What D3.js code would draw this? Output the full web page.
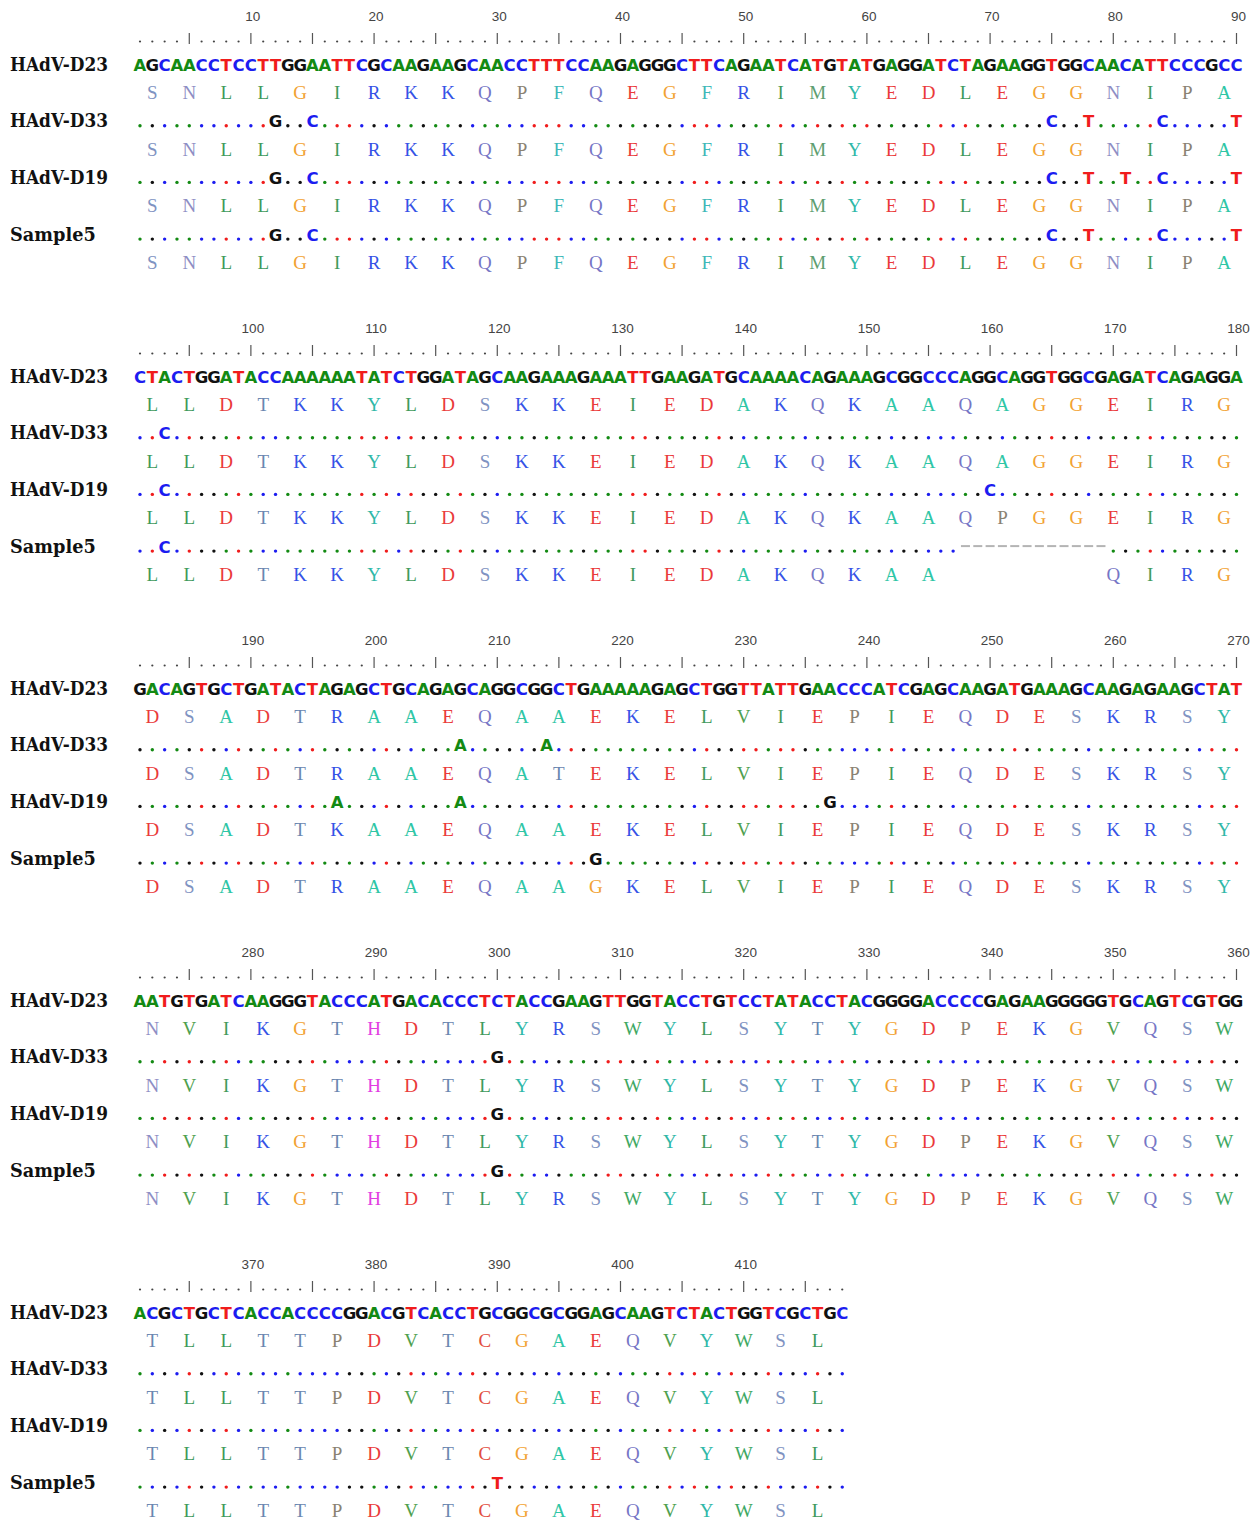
<!DOCTYPE html>
<html>
<head>
<meta charset="utf-8">
<script src="https://cdn.jsdelivr.net/npm/d3@7"></script>
<style>
  body { margin: 0; background: #fff; }
</style>
</head>
<body>
<div id="chart"></div>
<script>
const LINE_LEN = 90 // nucleotides per line
const BLOCK_H = 312 // vertical distance between blocks
const ROW_STEP = 56.7 // distance between two sequence rows
const AA_OFFSET = 28.3 // translation row below its sequence row
const LABEL_CHAR_W = 12.25 // labels are monospaced

// sequence names, in row order
const names = ["HAdV-D23", "HAdV-D33", "HAdV-D19", "Sample5"]

// reference (HAdV-D23) nucleotides, one string per line
const refLines = [
    "AGCAACCTCCTTGGAATTCGCAAGAAGCAACCTTTCCAAGAGGGCTTCAGAATCATGTATGAGGATCTAGAAGGTGGCAACATTCCCGCC",
    "CTACTGGATACCAAAAAATATCTGGATAGCAAGAAAGAAATTGAAGATGCAAAACAGAAAGCGGCCCAGGCAGGTGGCGAGATCAGAGGA",
    "GACAGTGCTGATACTAGAGCTGCAGAGCAGGCGGCTGAAAAAGAGCTGGTTATTGAACCCATCGAGCAAGATGAAAGCAAGAGAAGCTAT",
    "AATGTGATCAAGGGTACCCATGACACCCTCTACCGAAGTTGGTACCTGTCCTATACCTACGGGGACCCCGAGAAGGGGGTGCAGTCGTGG",
    "ACGCTGCTCACCACCCCGGACGTCACCTGCGGCGCGGAGCAAGTCTACTGGTCGCTGC"
]

// differences to the reference: [position, base]
const varD33 = [[12, "G"], [15, "C"], [75, "C"], [78, "T"], [84, "C"], [90, "T"], [93, "C"], [207, "A"], [214, "A"], [300, "G"]]
const varD19 = [[12, "G"], [15, "C"], [75, "C"], [78, "T"], [81, "T"], [84, "C"], [90, "T"], [93, "C"], [160, "C"], [197, "A"], [207, "A"], [237, "G"], [300, "G"]]
const varSample5 = [[12, "G"], [15, "C"], [75, "C"], [78, "T"], [84, "C"], [90, "T"], [93, "C"], [218, "G"], [300, "G"], [390, "T"]]

// deleted positions in Sample5: [first, last]
const gapSample5 = [158, 169]

// translations, one string per line ("-" = no residue shown)
const aaD23 = [
    "SNLLGIRKKQPFQEGFRIMYEDLEGGNIPA",
    "LLDTKKYLDSKKEIEDAKQKAAQAGGEIRG",
    "DSADTRAAEQAAEKELVIEPIEQDESKRSY",
    "NVIKGTHDTLYRSWYLSYTYGDPEKGVQSW",
    "TLLTTPDVTCGAEQVYWSL"
]
const aaD33 = [
    "SNLLGIRKKQPFQEGFRIMYEDLEGGNIPA",
    "LLDTKKYLDSKKEIEDAKQKAAQAGGEIRG",
    "DSADTRAAEQATEKELVIEPIEQDESKRSY",
    "NVIKGTHDTLYRSWYLSYTYGDPEKGVQSW",
    "TLLTTPDVTCGAEQVYWSL"
]
const aaD19 = [
    "SNLLGIRKKQPFQEGFRIMYEDLEGGNIPA",
    "LLDTKKYLDSKKEIEDAKQKAAQPGGEIRG",
    "DSADTKAAEQAAEKELVIEPIEQDESKRSY",
    "NVIKGTHDTLYRSWYLSYTYGDPEKGVQSW",
    "TLLTTPDVTCGAEQVYWSL"
]
const aaSample5 = [
    "SNLLGIRKKQPFQEGFRIMYEDLEGGNIPA",
    "LLDTKKYLDSKKEIEDAKQKAA----QIRG",
    "DSADTRAAEQAAGKELVIEPIEQDESKRSY",
    "NVIKGTHDTLYRSWYLSYTYGDPEKGVQSW",
    "TLLTTPDVTCGAEQVYWSL"
]

const ntColor = { A: "#138a13", C: "#1c1cf0", G: "#111111", T: "#f01c1c" }
const aaColor = {
    S: "#7f93c2", N: "#8e8ec4", L: "#3f9a5c", G: "#f2a232", I: "#3f9a5c",
    R: "#3552e6", K: "#3552e6", Q: "#7676c6", P: "#8a8272", F: "#3fb8b8",
    E: "#ea3a3a", M: "#5e9e70", Y: "#2fb8a8", D: "#ea3a3a", A: "#2fc6a6",
    T: "#6a86b0", H: "#e23ee2", V: "#4ea04e", W: "#3ea862", C: "#e24e3e"
}

const refSeq = refLines.join("")
const seqLen = refSeq.length
const variants = [[], varD33, varD19, varSample5]
const aaRows = [aaD23, aaD33, aaD19, aaSample5]

var svg = d3.select("#chart").append("svg")
    .attr("width", 1258)
    .attr("height", 1520)
    .style("display", "block");

var x = d3.scaleLinear()
    .domain([1, LINE_LEN])
    .range([140, 1236.5]);

var blocks = d3.range(Math.ceil(seqLen / LINE_LEN));

blocks.forEach(function (b) {
    var g = svg.append("g").attr("transform", "translate(0," + (b * BLOCK_H) + ")");
    var start = b * LINE_LEN + 1,
        end = Math.min(start + LINE_LEN - 1, seqLen);
    var positions = d3.range(start, end + 1);
    var local = p => p - start + 1;

    // ruler
    g.append("g").selectAll("text")
        .data(positions.filter(p => p % 10 === 0))
        .enter().append("text")
        .attr("x", p => x(local(p)) + 2)
        .attr("y", 21)
        .attr("text-anchor", "middle")
        .style("font", "13.5px 'Liberation Sans', Arial, sans-serif")
        .attr("fill", "#444")
        .text(p => p);

    g.append("g").selectAll("line")
        .data(positions.filter(p => p % 5 === 0))
        .enter().append("line")
        .attr("x1", p => x(local(p))).attr("x2", p => x(local(p)))
        .attr("y1", 33).attr("y2", 44)
        .attr("stroke", "#555").attr("stroke-width", 1.2);

    g.append("g").selectAll("circle")
        .data(positions.filter(p => p % 5 !== 0))
        .enter().append("circle")
        .attr("cx", p => x(local(p)))
        .attr("cy", 41.5)
        .attr("r", 1.1)
        .attr("fill", "#444");

    names.forEach(function (name, r) {
        var yc = 64 + r * ROW_STEP;
        var row = g.append("g");

        row.append("text")
            .attr("x", 10)
            .attr("y", yc + 6.5)
            .attr("textLength", name.length * LABEL_CHAR_W)
            .attr("lengthAdjust", "spacingAndGlyphs")
            .style("font", "bold 18px 'DejaVu Serif', 'Courier New', serif")
            .attr("fill", "#111")
            .text(name);

        var diff = new Map(variants[r]);
        var inGap = p => r === 3 && p >= gapSample5[0] && p <= gapSample5[1];

        var cells = positions.map(function (p) {
            var ref = refSeq[p - 1];
            if (r === 0) return { p: p, ch: ref, kind: "base", color: ntColor[ref] };
            if (inGap(p)) return { p: p, ch: "-", kind: "gap" };
            if (diff.has(p)) return { p: p, ch: diff.get(p), kind: "base", color: ntColor[diff.get(p)] };
            return { p: p, kind: "dot", color: ntColor[ref] };
        });

        row.selectAll("text.nt")
            .data(cells.filter(c => c.kind === "base"))
            .enter().append("text")
            .attr("class", "nt")
            .attr("x", c => x(local(c.p)))
            .attr("y", yc + 6.5)
            .attr("text-anchor", "middle")
            .style("font", "bold 16.5px 'DejaVu Sans', Verdana, sans-serif")
            .attr("fill", c => c.color)
            .text(c => c.ch);

        row.selectAll("circle.dot")
            .data(cells.filter(c => c.kind === "dot"))
            .enter().append("circle")
            .attr("class", "dot")
            .attr("cx", c => x(local(c.p)))
            .attr("cy", yc + 5)
            .attr("r", 1.7)
            .attr("fill", c => c.color);

        row.selectAll("line.gap")
            .data(cells.filter(c => c.kind === "gap"))
            .enter().append("line")
            .attr("class", "gap")
            .attr("x1", c => x(local(c.p)) - 4.5)
            .attr("x2", c => x(local(c.p)) + 4.5)
            .attr("y1", yc).attr("y2", yc)
            .attr("stroke", "#b4b4b4").attr("stroke-width", 2);

        // translation
        var aa = aaRows[r][b].split("").map((ch, i) => ({ ch: ch, p: start + i * 3 + 1 }))
            .filter(d => d.ch !== "-");

        row.selectAll("text.aa")
            .data(aa)
            .enter().append("text")
            .attr("class", "aa")
            .attr("x", d => x(local(d.p)))
            .attr("y", yc + AA_OFFSET + 6.5)
            .attr("text-anchor", "middle")
            .style("font", "19px 'Liberation Serif', 'Courier New', serif")
            .attr("fill", d => aaColor[d.ch])
            .text(d => d.ch);
    });
});
</script>
</body>
</html>
